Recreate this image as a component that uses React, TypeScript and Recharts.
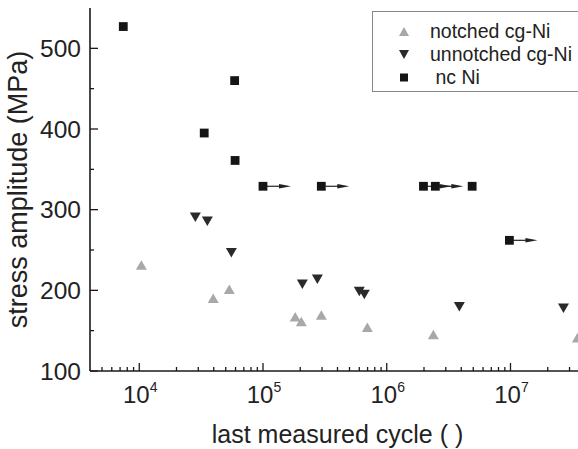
import React from 'react';
import { ScatterChart, Scatter, XAxis, YAxis, Legend } from 'recharts';

// notched cg-Ni (grey up triangles)
const notchedCycles = [10400, 39600, 53400, 182000, 204000, 296000, 697000, 2380000, 34700000];
const notchedStress = [231, 190, 201, 167, 161, 169, 154, 145, 141];

// unnotched cg-Ni (dark down triangles)
const unnotchedCycles = [28400, 35500, 55500, 208000, 275000, 600000, 659000, 3860000, 26800000];
const unnotchedStress = [291, 286, 247, 208, 214, 199, 195, 180, 178];

// nc Ni (black squares), runout = still running (arrow)
const ncCycles = [7430, 33500, 59000, 59500, 100000, 296000, 1980000, 2470000, 4900000, 9800000];
const ncStress = [527, 395, 460, 361, 329, 329, 329, 329, 329, 262];
const ncRunout = [false, false, false, false, true, true, true, true, false, true];

const xMajorTicks = [1e4, 1e5, 1e6, 1e7];
const xMinorTicks = [
  5e3, 6e3, 7e3, 8e3, 9e3,
  2e4, 3e4, 4e4, 5e4, 6e4, 7e4, 8e4, 9e4,
  2e5, 3e5, 4e5, 5e5, 6e5, 7e5, 8e5, 9e5,
  2e6, 3e6, 4e6, 5e6, 6e6, 7e6, 8e6, 9e6,
  2e7, 3e7,
];
const xExponents = [4, 5, 6, 7];
const yMajorTicks = [100, 200, 300, 400, 500];
const yMinorTicks = [150, 250, 350, 450];

const legendLabels = ['notched cg-Ni', 'unnotched cg-Ni', ' nc Ni'];
const xTitle = 'last measured cycle ( )';
const yTitle = 'stress amplitude (MPa)';

const notchedData = notchedCycles.map((c, i) => ({ x: c, y: notchedStress[i] }));
const unnotchedData = unnotchedCycles.map((c, i) => ({ x: c, y: unnotchedStress[i] }));
const ncData = ncCycles.map((c, i) => ({ x: c, y: ncStress[i], runout: ncRunout[i] }));

const xAllTicks = [...xMajorTicks, ...xMinorTicks].sort((a, b) => a - b);
const yAllTicks = [...yMajorTicks, ...yMinorTicks].sort((a, b) => a - b);

const TEXT = '#222';
const AX = '#1a1a1a';
const FONT = '"Liberation Sans", Arial, sans-serif';

const UpTri = (props: any) => {
  const { cx, cy } = props;
  const s = 5.5;
  return <polygon points={`${cx - s},${cy + 4.5} ${cx + s},${cy + 4.5} ${cx},${cy - 5}`} fill="#a8a8a8" />;
};
const DownTri = (props: any) => {
  const { cx, cy } = props;
  const s = 5.5;
  return <polygon points={`${cx - s},${cy - 4.5} ${cx + s},${cy - 4.5} ${cx},${cy + 5}`} fill="#2a2a2a" />;
};
const Square = (props: any) => {
  const { cx, cy, payload } = props;
  return (
    <g>
      {payload && payload.runout ? (
        <g>
          <line x1={cx + 4} y1={cy} x2={cx + 18} y2={cy} stroke="#222" strokeWidth={1.2} />
          <polygon points={`${cx + 16},${cy - 2.2} ${cx + 28},${cy} ${cx + 16},${cy + 2.2}`} fill="#222" />
        </g>
      ) : null}
      <rect x={cx - 4.4} y={cy - 4.4} width={8.8} height={8.8} fill="#151515" />
    </g>
  );
};

const BottomTick = (props: any) => {
  const { x, y, payload } = props;
  const v = payload.value;
  const mi = xMajorTicks.indexOf(v);
  const major = mi >= 0;
  return (
    <g>
      <line x1={x} y1={y} x2={x} y2={y - (major ? 8 : 4)} stroke={AX} strokeWidth={1.3} />
      {major ? (
        <text x={x + 1} y={y + 32} textAnchor="middle" fill={TEXT} fontFamily={FONT} fontSize={24}>
          10
          <tspan fontSize={14} dy={-11}>{xExponents[mi]}</tspan>
        </text>
      ) : null}
    </g>
  );
};
const TopTick = (props: any) => {
  const { x, y, payload } = props;
  const major = xMajorTicks.indexOf(payload.value) >= 0;
  return <line x1={x} y1={y} x2={x} y2={y + (major ? 8 : 4)} stroke={AX} strokeWidth={1.3} />;
};
const LeftTick = (props: any) => {
  const { x, y, payload } = props;
  const major = yMajorTicks.indexOf(payload.value) >= 0;
  return (
    <g>
      <line x1={x} y1={y} x2={x + (major ? 8 : 4)} y2={y} stroke={AX} strokeWidth={1.3} />
      {major ? (
        <text x={x - 9} y={y} dy="0.35em" textAnchor="end" fill={TEXT} fontFamily={FONT} fontSize={24.5}>
          {payload.value}
        </text>
      ) : null}
    </g>
  );
};
const RightTick = (props: any) => {
  const { x, y, payload } = props;
  const major = yMajorTicks.indexOf(payload.value) >= 0;
  return <line x1={x} y1={y} x2={x - (major ? 8 : 4)} y2={y} stroke={AX} strokeWidth={1.3} />;
};

const YTitle = (props: any) => {
  const vb = props.viewBox || { x: 0, y: 8, width: 90, height: 363 };
  const cy = vb.y + vb.height / 2;
  return (
    <text
      x={0}
      y={0}
      transform={`translate(27,${cy}) rotate(-90)`}
      textAnchor="middle"
      fill={TEXT}
      fontFamily={FONT}
      fontSize={27}
    >
      {yTitle}
    </text>
  );
};

const LegendBox = () => {
  const symbols = [
    <polygon key="a" points="0,9 10,9 5,0" fill="#a8a8a8" />,
    <polygon key="b" points="0,0 10,0 5,9" fill="#2a2a2a" />,
    <rect key="c" x={1} y={0.5} width={8} height={8} fill="#151515" />,
  ];
  return (
    <div
      style={{
        border: '1px solid #888',
        borderRight: 'none',
        background: '#fff',
        width: 220,
        height: 81,
        boxSizing: 'border-box',
        paddingTop: 8,
        fontFamily: FONT,
        fontSize: 19.5,
        color: TEXT,
      }}
    >
      {legendLabels.map((lab, i) => (
        <div key={i} style={{ display: 'flex', alignItems: 'center', height: 23 }}>
          <svg width={10} height={10} style={{ marginLeft: 26, marginRight: 21 }}>
            {symbols[i]}
          </svg>
          <span style={{ whiteSpace: 'pre' }}>{lab}</span>
        </div>
      ))}
    </div>
  );
};

export default function App() {
  return (
    <div style={{ position: 'absolute', left: 0, top: 0, width: 578, height: 449, background: '#fff', overflow: 'hidden' }}>
      <ScatterChart width={578} height={449} margin={{ top: 8, right: -7, bottom: 0, left: 0 }}>
        <XAxis
          dataKey="x"
          type="number"
          scale="log"
          domain={[4000, 40000000]}
          allowDataOverflow
          ticks={xAllTicks}
          interval={0}
          height={78}
          tickSize={0}
          tickMargin={0}
          tickLine={false}
          tick={<BottomTick />}
          axisLine={{ stroke: AX, strokeWidth: 1.6 }}
          label={{ value: xTitle, position: 'insideBottom', offset: 6, fill: TEXT, fontSize: 25, fontFamily: FONT }}
        />
        <XAxis
          xAxisId="top"
          orientation="top"
          dataKey="x"
          type="number"
          scale="log"
          domain={[4000, 40000000]}
          allowDataOverflow
          ticks={xAllTicks}
          interval={0}
          height={0}
          tickSize={0}
          tickMargin={0}
          tickLine={false}
          tick={<TopTick />}
          axisLine={{ stroke: AX, strokeWidth: 1.6 }}
        />
        <YAxis
          dataKey="y"
          type="number"
          domain={[100, 550]}
          allowDataOverflow
          ticks={yAllTicks}
          interval={0}
          width={90}
          tickSize={0}
          tickMargin={0}
          tickLine={false}
          tick={<LeftTick />}
          axisLine={{ stroke: AX, strokeWidth: 1.6 }}
          label={{ content: (p: any) => <YTitle {...p} /> }}
        />
        <YAxis
          yAxisId="right"
          orientation="right"
          dataKey="y"
          type="number"
          domain={[100, 550]}
          allowDataOverflow
          ticks={yAllTicks}
          interval={0}
          width={0}
          tickSize={0}
          tickMargin={0}
          tickLine={false}
          tick={<RightTick />}
          axisLine={{ stroke: AX, strokeWidth: 1.6 }}
        />
        <Legend
          layout="vertical"
          align="center"
          verticalAlign="middle"
          content={<LegendBox />}
          wrapperStyle={{ left: 372, top: 11, width: 220, height: 81 }}
        />
        <Scatter name="notched cg-Ni" data={notchedData} shape={<UpTri />} isAnimationActive={false} />
        <Scatter name="unnotched cg-Ni" data={unnotchedData} shape={<DownTri />} isAnimationActive={false} />
        <Scatter name="nc Ni" data={ncData} shape={<Square />} isAnimationActive={false} />
      </ScatterChart>
    </div>
  );
}
